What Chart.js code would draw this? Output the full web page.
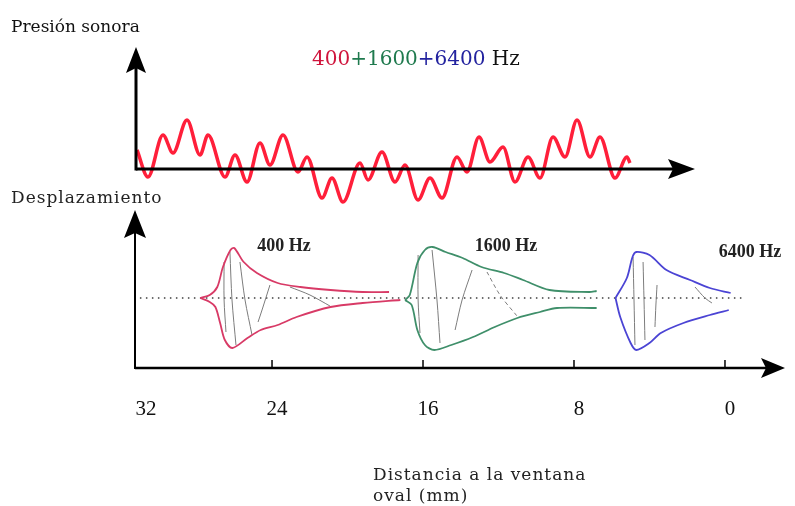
<!DOCTYPE html>
<html>
<head>
<meta charset="utf-8">
<script src="https://cdn.jsdelivr.net/npm/chart.js@4.4.1/dist/chart.umd.min.js"></script>
<style>
    html, body { margin: 0; padding: 0; background: #fff; }
    #wrap { position: relative; width: 795px; height: 506px; overflow: hidden; }
    #wrap canvas { position: absolute; left: 0; }
    #pressure-chart { top: 0; }
    #displacement-chart { top: 190px; }
</style>
</head>
<body>
<div id="wrap">
    <canvas id="pressure-chart" width="795" height="215"></canvas>
    <canvas id="displacement-chart" width="795" height="316"></canvas>
</div>
<script>
// ------------------------
// DATA
// ------------------------

// top panel: summed wave (time in arbitrary units, pressure in arbitrary units)
const waveTime = [0.1, 1.2, 2.7, 3.7, 5.1, 6.4, 7.2, 8.9, 9.9, 11.1, 12.4, 13.4, 14.7, 16.2, 17.1,
    18.6, 19.6, 20.7, 22.4, 23.2, 24.6, 25.9, 26.9, 28.2, 29.4, 30.6, 32.1, 33.1, 34.3, 35.4,
    36.7, 37.9, 39.2, 40.4, 41.7, 42.9, 44.1, 45.4, 46.4, 47.9, 49.1, 49.4];
const wavePressure = [1.9, -0.8, 3.4, 1.6, 4.9, 1.4, 3.4, -0.8, 1.4, -1.3, 2.6, 0.4, 3.4, -0.3, 1.2,
    -2.9, -0.9, -3.3, 0.6, -1.1, 1.7, -1.3, 0.4, -3.1, -0.9, -2.9, 1.2, -0.3, 3.2, 0.7,
    2.2, -1.3, 1.2, -0.9, 3.2, 1.2, 4.9, 1.2, 3.2, -0.9, 1.2, 0.6];

const titleParts = ["400", "+1600", "+6400", " Hz"];
const titleColors = ["#d0143c", "#1f7a4e", "#23239f", "#111111"];

// bottom panel: envelopes, [distance mm, displacement]
const env400Upper = [[27.8, 0], [27.3, 0.3], [26.9, 1.1], [26.6, 3.1], [26.2, 4.8], [26.0, 5.0], [25.5, 3.6],
    [24.8, 2.5], [23.7, 1.5], [22.5, 1.1], [20.9, 0.8], [19.2, 0.6], [17.8, 0.6]];
const env400Lower = [[27.8, 0], [27.3, -0.4], [27.0, -0.9], [26.75, -2.5], [26.5, -4.2], [26.1, -5.0], [25.3, -4.0],
    [24.6, -3.2], [23.7, -2.7], [22.7, -1.9], [20.9, -0.9], [19.2, -0.5], [17.2, -0.2]];
const env1600Upper = [[16.95, -0.2], [16.7, 0.3], [16.3, 3.5], [15.9, 4.8], [15.5, 5.1], [14.8, 4.6], [13.9, 4.0],
    [12.9, 3.1], [11.7, 2.5], [10.7, 1.8], [9.3, 0.8], [7.2, 0.6], [6.8, 0.7]];
const env1600Lower = [[16.95, -0.2], [16.6, -0.7], [16.3, -3.2], [15.9, -4.7], [15.4, -5.2], [14.5, -4.7],
    [13.35, -3.9], [12.2, -2.9], [11.0, -2.0], [9.8, -1.4], [8.9, -1.0], [6.8, -1.0]];
const env6400Upper = [[5.8, 0], [5.2, 2.0], [4.9, 4.1], [4.7, 4.6], [4.0, 4.3], [3.1, 2.8], [1.85, 1.8],
    [0.8, 1.0], [-0.3, 0.5]];
const env6400Lower = [[5.8, 0], [5.55, -1.9], [5.0, -4.5], [4.7, -5.2], [4.0, -4.5], [3.4, -3.5], [2.2, -2.5],
    [0.8, -1.7], [-0.2, -1.2]];

// snapshots of the wave inside each envelope
const snap400 = [
    [[26.54, 3.6], [26.54, -0.2], [26.44, -3.4]],
    [[26.23, 4.6], [26.12, -0.2], [25.91, -4.7]],
    [[25.7, 3.6], [25.43, -0.2], [25.06, -3.7]],
    [[24.11, 1.3], [24.53, -1.2], [24.74, -2.4]],
    [[23.05, 1.1], [21.99, 0.3], [20.93, -0.8]]
];
const snap1600 = [
    [[16.26, 4.3], [16.26, -0.2], [16.16, -3.5]],
    [[15.52, 4.8], [15.26, -0.2], [15.1, -4.5]],
    [[13.4, 2.8], [13.93, -0.2], [14.3, -3.2]],
    [[12.61, 2.6], [11.92, 0.3], [11.02, -1.8]]
];
const snap6400 = [
    [[4.87, 4.1], [4.82, -0.2], [4.77, -4.7]],
    [[4.34, 3.6], [4.29, -0.2], [4.24, -4.2]],
    [[3.6, 1.3], [3.66, -0.7], [3.71, -2.9]],
    [[1.59, 1.1], [1.06, 0], [0.69, -0.5]]
];

const restLine = [[31.0, 0], [-1.1, 0]];

const toneLabels = ["400 Hz", "1600 Hz", "6400 Hz"];
const toneColors = ["#d83a66", "#3f8f6a", "#4b44d4"];
const distTicks = [32, 24, 16, 8, 0];

// ------------------------
// CHART UTILITY
// ------------------------

let charts = {};

function createChart(canvasId, config) {
    const canvas = document.getElementById(canvasId);
    if (!canvas) return null;
    if (charts[canvasId]) charts[canvasId].destroy();
    const chart = new Chart(canvas.getContext("2d"), config);
    charts[canvasId] = chart;
    return chart;
}

const pts = arr => arr.map(p => ({ x: p[0], y: p[1] }));

function strokeLine(ctx, x1, y1, x2, y2) {
    ctx.beginPath();
    ctx.moveTo(x1, y1);
    ctx.lineTo(x2, y2);
    ctx.stroke();
}

function arrowUp(ctx, x, tipY, half, len) {
    ctx.beginPath();
    ctx.moveTo(x, tipY);
    ctx.lineTo(x + half, tipY + len);
    ctx.lineTo(x, tipY + len - 5);
    ctx.lineTo(x - half, tipY + len);
    ctx.closePath();
    ctx.fill();
}

function arrowRight(ctx, tipX, y, half, len) {
    ctx.beginPath();
    ctx.moveTo(tipX, y);
    ctx.lineTo(tipX - len, y - half);
    ctx.lineTo(tipX - len + 5, y);
    ctx.lineTo(tipX - len, y + half);
    ctx.closePath();
    ctx.fill();
}

// ------------------------
// TOP: SOUND PRESSURE
// ------------------------

const pressureDecor = {
    id: "pressureDecor",
    afterDatasetsDraw(chart) {
        const { ctx, chartArea, scales } = chart;
        const x0 = chartArea.left;
        const y0 = scales.y.getPixelForValue(0);

        ctx.save();
        ctx.strokeStyle = "#000";
        ctx.fillStyle = "#000";
        ctx.lineWidth = 3;
        strokeLine(ctx, x0, y0 + 1.5, x0, chartArea.top + 20);
        arrowUp(ctx, x0, chartArea.top, 10, 26);
        strokeLine(ctx, x0, y0, chartArea.right - 20, y0);
        arrowRight(ctx, chartArea.right, y0, 10, 27);

        ctx.fillStyle = "#111";
        ctx.textBaseline = "alphabetic";
        ctx.font = '17px "DejaVu Serif"';
        ctx.fillText("Presión sonora", 11, 32);

        ctx.font = '20px "DejaVu Serif"';
        let tx = 312;
        titleParts.forEach((part, i) => {
            ctx.fillStyle = titleColors[i];
            ctx.fillText(part, tx, 65);
            tx += ctx.measureText(part).width;
        });
        ctx.restore();
    }
};

createChart("pressure-chart", {
    type: "line",
    data: {
        datasets: [{
            data: waveTime.map((t, i) => ({ x: t, y: wavePressure[i] })),
            borderColor: "#ff1f3a",
            borderWidth: 3.5,
            pointRadius: 0,
            cubicInterpolationMode: "monotone",
            fill: false
        }]
    },
    options: {
        responsive: false,
        animation: false,
        layout: { padding: { left: 136, right: 100, top: 47, bottom: 5 } },
        plugins: { legend: { display: false }, tooltip: { enabled: false } },
        scales: {
            x: { type: "linear", display: false, min: 0, max: 55.9 },
            y: { display: false, min: -4.1, max: 12.2 }
        }
    },
    plugins: [pressureDecor]
});

// ------------------------
// BOTTOM: DISPLACEMENT
// ------------------------

const displacementDecor = {
    id: "displacementDecor",
    afterDatasetsDraw(chart) {
        const { ctx, chartArea, scales } = chart;
        const left = chartArea.left;
        const bottom = chartArea.bottom;

        ctx.save();
        ctx.strokeStyle = "#000";
        ctx.fillStyle = "#000";
        ctx.lineWidth = 2;
        strokeLine(ctx, left, bottom + 1, left, chartArea.top + 20);
        arrowUp(ctx, left, chartArea.top, 11, 28);
        ctx.lineWidth = 2.5;
        strokeLine(ctx, left, bottom, chartArea.right - 18, bottom);
        arrowRight(ctx, chartArea.right, bottom, 10, 24);

        ctx.lineWidth = 1.5;
        distTicks.forEach(v => {
            if (v > scales.x.max) return;
            const px = scales.x.getPixelForValue(v);
            strokeLine(ctx, px, bottom, px, bottom - 8);
        });

        ctx.fillStyle = "#111";
        ctx.textAlign = "center";
        ctx.textBaseline = "alphabetic";
        ctx.font = '21px "Liberation Serif"';
        distTicks.forEach(v => {
            const px = v > scales.x.max ? left + 11 : scales.x.getPixelForValue(v) + 5;
            ctx.fillText(String(v), px, bottom + 47);
        });

        ctx.font = 'bold 18px "Liberation Serif"';
        ctx.textBaseline = "middle";
        ctx.fillStyle = "#222";
        const labelPos = [[284, 56], [506, 56], [750, 62]];
        toneLabels.forEach((t, i) => ctx.fillText(t, labelPos[i][0], labelPos[i][1]));

        ctx.textAlign = "left";
        ctx.textBaseline = "alphabetic";
        ctx.font = '17px "DejaVu Serif"';
        ctx.letterSpacing = "1px";
        ctx.fillText("Desplazamiento", 11, 13);
        ctx.fillText("Distancia a la ventana", 373, 290);
        ctx.fillText("oval (mm)", 373, 311);
        ctx.restore();
    }
};

const envStyle = color => ({
    borderColor: color,
    borderWidth: 1.8,
    pointRadius: 0,
    tension: 0.3,
    fill: false,
    order: 1
});

const snapDatasets = (snaps, dashed) => snaps.map((s, i) => ({
    data: pts(s),
    borderColor: "#7c7c7c",
    borderWidth: 1,
    borderDash: dashed && i === snaps.length - 1 ? [4, 3] : [],
    pointRadius: 0,
    tension: 0.3,
    fill: false,
    order: 2
}));

createChart("displacement-chart", {
    type: "line",
    data: {
        datasets: [
            {
                data: pts(restLine),
                borderColor: "#6e6e6e",
                borderWidth: 2,
                borderDash: [1.5, 4.5],
                pointRadius: 0,
                fill: false,
                order: 5
            },
            ...snapDatasets(snap400, false),
            ...snapDatasets(snap1600, true),
            ...snapDatasets(snap6400, false),
            { data: pts(env400Upper), ...envStyle(toneColors[0]) },
            { data: pts(env400Lower), ...envStyle(toneColors[0]) },
            { data: pts(env1600Upper), ...envStyle(toneColors[1]) },
            { data: pts(env1600Lower), ...envStyle(toneColors[1]) },
            { data: pts(env6400Upper), ...envStyle(toneColors[2]) },
            { data: pts(env6400Lower), ...envStyle(toneColors[2]) }
        ]
    },
    options: {
        responsive: false,
        animation: false,
        layout: { padding: { left: 135, right: 10, top: 20, bottom: 138 } },
        plugins: { legend: { display: false }, tooltip: { enabled: false } },
        scales: {
            x: { type: "linear", display: false, reverse: true, min: -3.18, max: 31.26 },
            y: { display: false, min: -7.0, max: 8.8 }
        }
    },
    plugins: [displacementDecor]
});
</script>
</body>
</html>
